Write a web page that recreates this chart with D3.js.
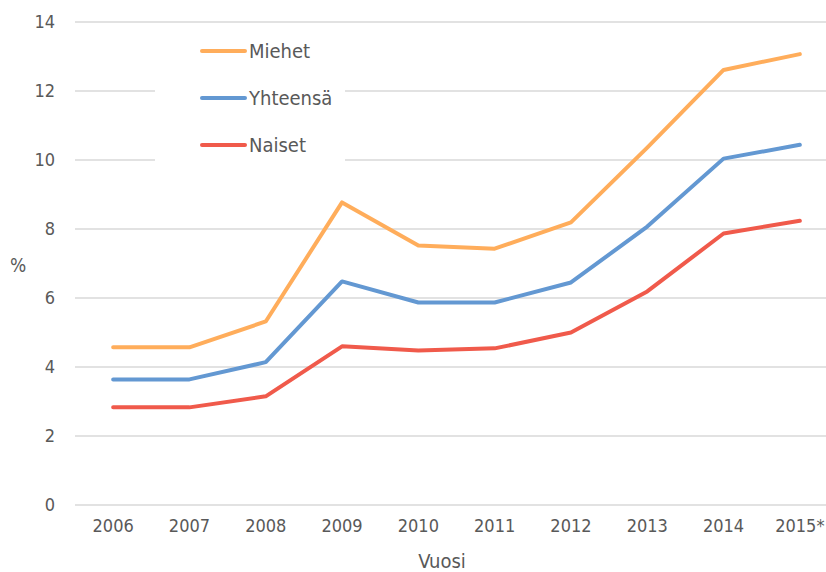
<!DOCTYPE html>
<html>
<head>
<meta charset="utf-8">
<script src="https://cdn.jsdelivr.net/npm/d3@7/dist/d3.min.js"></script>
<style>
  body { margin: 0; background: #fff; }
  svg text { font-family: "DejaVu Sans Condensed", "DejaVu Sans", sans-serif; font-stretch: condensed; fill: #595959; }
</style>
</head>
<body>
<div id="chart"></div>
<script>
// vuodet ja sarjat
const years = ["2006", "2007", "2008", "2009", "2010", "2011", "2012", "2013", "2014", "2015*"];
const miehet = [4.57, 4.57, 5.32, 8.77, 7.52, 7.43, 8.19, 10.36, 12.61, 13.07];
const yhteensa = [3.64, 3.64, 4.14, 6.48, 5.87, 5.87, 6.45, 8.07, 10.04, 10.44];
const naiset = [2.83, 2.83, 3.15, 4.60, 4.48, 4.54, 5.00, 6.19, 7.87, 8.24];
const yTicks = [0, 2, 4, 6, 8, 10, 12, 14];
const seriesNames = ["Miehet", "Yhteensä", "Naiset"];
const colors = ["#FFAD5B", "#6398D2", "#F05A4B"];

const W = 826, H = 572;
const margin = {top: 22, right: -12, bottom: 67, left: 75};
const width = W - margin.left - margin.right;
const height = H - margin.top - margin.bottom;

const svg = d3.select("#chart").append("svg")
    .attr("width", W).attr("height", H);
const g = svg.append("g").attr("transform", `translate(${margin.left},${margin.top})`);

const x = d3.scaleBand().domain(years).range([0, width]);
const y = d3.scaleLinear().domain([0, 14]).range([height, 0]);

// vaakaviivat
g.append("g").selectAll("line").data(yTicks).enter().append("line")
    .attr("x1", 0).attr("x2", width)
    .attr("y1", d => y(d)).attr("y2", d => y(d))
    .attr("stroke", "#d9d9d9").attr("stroke-width", 1.3);

// y-akseli
const yAxis = g.append("g").call(d3.axisLeft(y).tickValues(yTicks).tickSize(0).tickPadding(20));
yAxis.select(".domain").remove();
yAxis.selectAll("text").style("font-size", "18px");

// x-akseli
const xAxis = g.append("g").attr("transform", `translate(0,${height})`)
    .call(d3.axisBottom(x).tickSize(0).tickPadding(14));
xAxis.select(".domain").remove();
xAxis.selectAll("text").style("font-size", "18px");

// akselien otsikot
svg.append("text").attr("x", 442).attr("y", 568).attr("text-anchor", "middle")
    .style("font-size", "20px").text("Vuosi");
svg.append("text").attr("x", 18).attr("y", 272).attr("text-anchor", "middle")
    .style("font-size", "19px").text("%");

// selite (valkoinen tausta peittää viivat)
g.append("rect").attr("x", 155 - margin.left).attr("y", 30 - margin.top)
    .attr("width", 190).attr("height", 136).attr("fill", "#fff");

// viivat
const line = d3.line()
    .x((d, i) => x(years[i]) + x.bandwidth() / 2)
    .y(d => y(d));
const allSeries = [miehet, yhteensa, naiset];
g.selectAll(".serie").data(allSeries).enter().append("path")
    .attr("class", "serie")
    .attr("d", line)
    .attr("fill", "none")
    .attr("stroke", (d, i) => colors[i])
    .attr("stroke-width", 4)
    .attr("stroke-linejoin", "round")
    .attr("stroke-linecap", "round");

const legend = svg.append("g").selectAll("g").data(seriesNames).enter().append("g")
    .attr("transform", (d, i) => `translate(202,${51 + i * 47})`);
legend.append("line").attr("x1", 0).attr("x2", 43)
    .attr("stroke", (d, i) => colors[i]).attr("stroke-width", 4).attr("stroke-linecap", "round");
legend.append("text").attr("x", 47).attr("dy", "0.36em")
    .style("font-size", "20px").text(d => d);
</script>
</body>
</html>
